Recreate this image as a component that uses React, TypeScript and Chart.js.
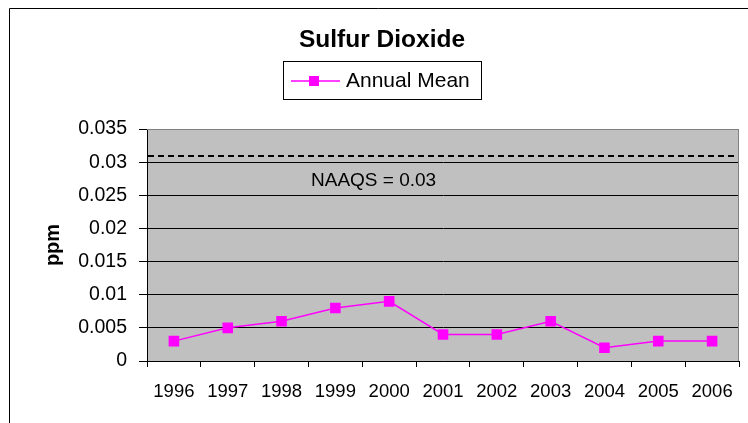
import React, { useEffect, useRef } from "react";
import { Chart, registerables } from "chart.js";

Chart.register(...registerables);

const YEARS = ["1996", "1997", "1998", "1999", "2000", "2001", "2002", "2003", "2004", "2005", "2006"];
const ANNUAL_MEAN = [0.003, 0.005, 0.006, 0.008, 0.009, 0.004, 0.004, 0.006, 0.002, 0.003, 0.003];
const SERIES_LABEL = "Annual Mean";
const TITLE = "Sulfur Dioxide";
const Y_TITLE = "ppm";
const Y_MIN = 0;
const Y_MAX = 0.035;
const Y_STEP = 0.005;
const NAAQS_LEVEL = 0.031;
const NAAQS_LABEL = "NAAQS = 0.03";

const FONT = "'Liberation Sans', Arial, sans-serif";
const MAGENTA = "#FF00FF";
const PLOT_BG = "#C0C0C0";

const decorPlugin = {
  id: "decor",
  beforeDraw(chart: any) {
    const { ctx, chartArea: a } = chart;
    ctx.save();
    ctx.fillStyle = "#FFFFFF";
    ctx.fillRect(0, 0, chart.width, chart.height);
    ctx.fillStyle = PLOT_BG;
    ctx.fillRect(a.left, a.top, a.right - a.left, a.bottom - a.top);
    ctx.restore();
  },
  beforeDatasetsDraw(chart: any) {
    const { ctx, chartArea: a, scales } = chart;
    const y = Math.round(scales.y.getPixelForValue(NAAQS_LEVEL));
    ctx.save();
    ctx.strokeStyle = "#000000";
    ctx.lineWidth = 2;
    ctx.setLineDash([6, 4]);
    ctx.beginPath();
    ctx.moveTo(a.left + 1, y);
    ctx.lineTo(a.right, y);
    ctx.stroke();
    ctx.setLineDash([]);
    // plot border top/right
    ctx.lineWidth = 1;
    ctx.strokeStyle = "#808080";
    ctx.beginPath();
    ctx.moveTo(a.left, a.top + 0.5);
    ctx.lineTo(a.right - 0.5, a.top + 0.5);
    ctx.lineTo(a.right - 0.5, a.bottom);
    ctx.stroke();
    // NAAQS label
    ctx.fillStyle = "#000000";
    ctx.font = `19px ${FONT}`;
    ctx.textBaseline = "alphabetic";
    ctx.textAlign = "left";
    ctx.fillText(NAAQS_LABEL, 311, 186);
    ctx.restore();
  },
  afterDraw(chart: any) {
    const { ctx } = chart;
    ctx.save();
    // outer border
    ctx.strokeStyle = "#000000";
    ctx.lineWidth = 1;
    ctx.beginPath();
    ctx.moveTo(9.5, chart.height);
    ctx.lineTo(9.5, 8.5);
    ctx.lineTo(chart.width, 8.5);
    ctx.stroke();
    // title
    ctx.fillStyle = "#000000";
    ctx.font = `bold 24.5px ${FONT}`;
    ctx.textAlign = "center";
    ctx.textBaseline = "alphabetic";
    ctx.fillText(TITLE, 382, 47);
    // legend
    ctx.strokeStyle = "#000000";
    ctx.strokeRect(283.5, 61.5, 198, 38);
    ctx.strokeStyle = MAGENTA;
    ctx.lineWidth = 1.5;
    ctx.beginPath();
    ctx.moveTo(291, 81);
    ctx.lineTo(340, 81);
    ctx.stroke();
    ctx.fillStyle = MAGENTA;
    ctx.fillRect(309, 76, 10, 10);
    ctx.fillStyle = "#000000";
    ctx.font = `21px ${FONT}`;
    ctx.textAlign = "left";
    ctx.fillText(SERIES_LABEL, 346, 87);
    ctx.restore();
  },
};

export default function App() {
  const ref = useRef<HTMLCanvasElement | null>(null);
  useEffect(() => {
    if (!ref.current) return;
    const chart = new Chart(ref.current, {
      type: "line",
      data: {
        labels: YEARS,
        datasets: [
          {
            label: SERIES_LABEL,
            data: ANNUAL_MEAN,
            borderColor: MAGENTA,
            backgroundColor: MAGENTA,
            borderWidth: 1.5,
            pointStyle: "rect",
            pointRadius: 7.5,
            pointBorderWidth: 0,
            pointBackgroundColor: MAGENTA,
            tension: 0,
          },
        ],
      },
      options: {
        responsive: false,
        animation: false,
        layout: { padding: { top: 129, right: 9, left: 0, bottom: 0 } },
        plugins: {
          legend: { display: false },
          title: { display: false },
          tooltip: { enabled: false },
        },
        scales: {
          x: {
            type: "category",
            offset: true,
            afterFit: (s: any) => {
              s.height = 62;
            },
            grid: {
              offset: true,
              drawOnChartArea: false,
              drawTicks: true,
              tickLength: 6,
              color: "#000000",
            },
            border: { color: "#000000", width: 1 },
            ticks: {
              color: "#000000",
              font: { family: FONT, size: 18.5 },
              padding: 14,
              maxRotation: 0,
              autoSkip: false,
            },
          },
          y: {
            min: Y_MIN,
            max: Y_MAX,
            afterFit: (s: any) => {
              s.width = 147;
            },
            ticks: {
              stepSize: Y_STEP,
              color: "#000000",
              font: { family: FONT, size: 19.5 },
              padding: 12,
              callback: (v: any) => String(+Number(v).toFixed(3)),
            },
            grid: {
              color: (c: any) => (c.tick && Math.abs(c.tick.value - Y_MAX) < 1e-9 ? "#808080" : "#000000"),
              tickColor: "#000000",
              tickLength: 8,
              lineWidth: 1,
            },
            border: { color: "#000000", width: 1 },
            title: {
              display: true,
              text: Y_TITLE,
              color: "#000000",
              font: { family: FONT, size: 20, weight: "bold" },
              padding: { top: 41, bottom: 0 },
            },
          },
        },
      },
      plugins: [decorPlugin],
    });
    return () => chart.destroy();
  }, []);
  return (
    <div style={{ position: "absolute", left: 0, top: 0, width: 748, height: 423 }}>
      <canvas ref={ref} width={748} height={423} style={{ display: "block" }} />
    </div>
  );
}
